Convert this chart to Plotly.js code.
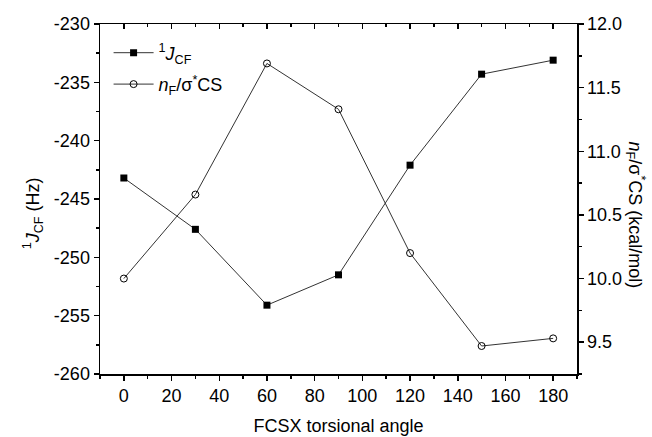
<!DOCTYPE html>
<html>
<head>
<meta charset="utf-8">
<script src="https://cdn.plot.ly/plotly-3.0.1.min.js"></script>
<style>html,body{margin:0;padding:0;background:#fff;}#chart{width:652px;height:437px;}</style>
</head>
<body>
<div id="chart"></div>
<script>
const angles = [0, 30, 60, 90, 120, 150, 180];
const jcf = [-243.2, -247.6, -254.1, -251.5, -242.1, -234.3, -233.1];
const nfSigma = [10.0, 10.66, 11.69, 11.33, 10.2, 9.47, 9.53];
const leftTickVals = [-260, -255, -250, -245, -240, -235, -230];
const leftTickText = ['-260', '-255', '-250', '-245', '-240', '-235', '-230'];
const xTitle = 'FCSX torsional angle';
const yLeftTitle = '<sup>1</sup><i>J</i><sub>CF</sub> (Hz)';
const yRightTitle = '<i>n</i><sub>F</sub>/σ<sup>*</sup>CS (kcal/mol)';

const FONT = 'Liberation Sans, Arial, sans-serif';
const lineColor = '#333';

const traces = [
  {
    x: angles, y: jcf, type: 'scatter', mode: 'lines+markers',
    name: '<sup>1</sup><i>J</i><sub>CF</sub>', legendgroup: 'a',
    line: {color: lineColor, width: 1},
    marker: {symbol: 'square', size: 7, color: '#000'},
    xaxis: 'x', yaxis: 'y'
  },
  {
    x: angles, y: nfSigma, type: 'scatter', mode: 'lines+markers',
    name: '<i>n</i><sub>F</sub>/σ<sup>*</sup>CS', legendgroup: 'b',
    line: {color: lineColor, width: 1},
    marker: {symbol: 'circle-open', size: 7, color: '#000', line: {width: 1}},
    xaxis: 'x', yaxis: 'y2'
  },
  {
    x: angles, y: jcf, type: 'scatter', mode: 'markers',
    marker: {opacity: 0}, showlegend: false, hoverinfo: 'skip',
    xaxis: 'x2', yaxis: 'y'
  }
];

const axisCommon = {
  showline: true, linecolor: '#000', linewidth: 1.5,
  showgrid: false, zeroline: false,
  ticks: 'outside', ticklen: 5, tickwidth: 1.5, tickcolor: '#000',
  tickfont: {family: FONT, size: 18, color: '#000'}
};

const layout = {
  width: 652, height: 437,
  margin: {l: 100, r: 75, t: 24, b: 63},
  paper_bgcolor: '#fff', plot_bgcolor: '#fff',
  font: {family: FONT, size: 18, color: '#000'},
  showlegend: true,
  legend: {
    x: 0.018, y: 0.97, xanchor: 'left', yanchor: 'top',
    bgcolor: 'rgba(0,0,0,0)', font: {family: FONT, size: 18, color: '#000'},
    tracegroupgap: 5, itemwidth: 40
  },
  xaxis: Object.assign({}, axisCommon, {
    range: [-10, 190], tickmode: 'linear', tick0: 0, dtick: 20,
    minor: {dtick: 10, ticks: 'outside', ticklen: 3, tickwidth: 1.5, tickcolor: '#000'},
    title: {text: xTitle, font: {family: FONT, size: 18, color: '#000'}, standoff: 14}
  }),
  xaxis2: {
    overlaying: 'x', side: 'top', matches: 'x', range: [-10, 190],
    showline: true, linecolor: '#000', linewidth: 1.5, showgrid: false, zeroline: false,
    showticklabels: false, ticks: 'inside', ticklen: 5, tickwidth: 1.5, tickcolor: '#000',
    tickmode: 'linear', tick0: 0, dtick: 20,
    minor: {dtick: 10, ticks: 'inside', ticklen: 3, tickwidth: 1.5, tickcolor: '#000'}
  },
  yaxis: Object.assign({}, axisCommon, {
    range: [-260, -230], tickmode: 'array', tickvals: leftTickVals, ticktext: leftTickText,
    minor: {dtick: 2.5, tick0: -260, ticks: 'outside', ticklen: 3, tickwidth: 1.5, tickcolor: '#000'}
  }),
  yaxis2: Object.assign({}, axisCommon, {
    overlaying: 'y', side: 'right', range: [9.25, 12],
    tickmode: 'linear', tick0: 9.5, dtick: 0.5, tickformat: '.1f',
    minor: {dtick: 0.25, tick0: 9.25, ticks: 'outside', ticklen: 3, tickwidth: 1.5, tickcolor: '#000'}
  }),
  annotations: [
    {
      text: yLeftTitle, xref: 'paper', yref: 'paper',
      x: -0.142, y: 0.46, xanchor: 'center', yanchor: 'middle',
      textangle: -90, showarrow: false,
      font: {family: FONT, size: 18, color: '#000'}
    },
    {
      text: yRightTitle, xref: 'paper', yref: 'paper',
      x: 1.122, y: 0.455, xanchor: 'center', yanchor: 'middle',
      textangle: 90, showarrow: false,
      font: {family: FONT, size: 18, color: '#000'}
    }
  ]
};

Plotly.newPlot('chart', traces, layout, {displayModeBar: false, staticPlot: true});
</script>
</body>
</html>
